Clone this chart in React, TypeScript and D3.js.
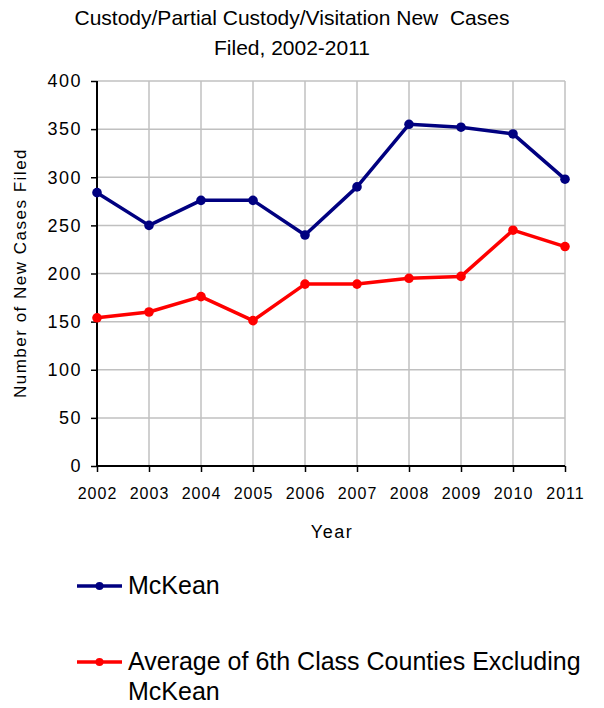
import * as d3 from 'd3'
import * as React from 'react'

//------------------------------data------------------------------
const years = ['2002', '2003', '2004', '2005', '2006', '2007', '2008', '2009', '2010', '2011']
const mckean = [284, 250, 276, 276, 240, 290, 355, 352, 345, 298]
const sixthClassAvg = [154, 160, 176, 151, 189, 189, 195, 197, 245, 228]
const yTicks = [0, 50, 100, 150, 200, 250, 300, 350, 400]

const WIDTH = 604
const HEIGHT = 708
const FONT = '"Liberation Sans", Arial, sans-serif'
const M = { left: 97, right: 565, top: 81, bottom: 466 }

//------------------------------Component------------------------------
export default function App() {
  const svgRef = React.useRef<SVGSVGElement>(null)

  React.useEffect(() => {
    const svg = d3.select(svgRef.current)
    svg.selectAll('*').remove()

    const x = d3.scalePoint<string>().domain(years).range([M.left, M.right])
    const y = d3.scaleLinear().domain([0, 400]).range([M.bottom, M.top])

    // grid
    const grid = svg.append('g').attr('stroke', '#c0c0c0').attr('stroke-width', 1.5)
    grid
      .selectAll('line.h')
      .data(yTicks.slice(1))
      .join('line')
      .attr('x1', M.left)
      .attr('x2', M.right)
      .attr('y1', d => y(d))
      .attr('y2', d => y(d))
    grid
      .selectAll('line.v')
      .data(years.slice(1))
      .join('line')
      .attr('x1', d => x(d)!)
      .attr('x2', d => x(d)!)
      .attr('y1', M.top)
      .attr('y2', M.bottom)

    // axes
    const yAxis = svg
      .append('g')
      .attr('transform', `translate(${M.left},0)`)
      .call(d3.axisLeft(y).tickValues(yTicks).tickSize(6).tickPadding(9))
    const xAxis = svg
      .append('g')
      .attr('transform', `translate(0,${M.bottom})`)
      .call(d3.axisBottom(x).tickSize(6).tickPadding(16))
    ;[yAxis, xAxis].forEach(g => {
      g.select('.domain').attr('stroke', '#000').attr('stroke-width', 2)
      g.selectAll('.tick line').attr('stroke', '#000').attr('stroke-width', 1.5)
      g.selectAll('.tick text').attr('fill', '#000').style('font-family', FONT)
    })
    yAxis.selectAll('.tick text').style('font-size', '18px').style('letter-spacing', '1.5px')
    xAxis.selectAll('.tick text').style('font-size', '16px').style('letter-spacing', '1px')
    yAxis.select('.domain').attr('d', `M0,${M.bottom}V${M.top}`)
    xAxis.select('.domain').attr('d', `M${M.left},0H${M.right}`)

    // lines
    const series = [
      { name: 'McKean', values: mckean, color: '#000080' },
      { name: 'Average of 6th Class Counties Excluding McKean', values: sixthClassAvg, color: '#ff0000' }
    ]
    const line = d3
      .line<number>()
      .x((_, i) => x(years[i])!)
      .y(d => y(d))
    series.forEach(s => {
      svg
        .append('path')
        .datum(s.values)
        .attr('d', line)
        .attr('fill', 'none')
        .attr('stroke', s.color)
        .attr('stroke-width', 3.5)
        .attr('stroke-linejoin', 'round')
      svg
        .append('g')
        .selectAll('circle')
        .data(s.values)
        .join('circle')
        .attr('cx', (_, i) => x(years[i])!)
        .attr('cy', d => y(d))
        .attr('r', 4.8)
        .attr('fill', s.color)
    })

    // titles
    const title = svg
      .append('text')
      .attr('text-anchor', 'middle')
      .style('font-family', FONT)
      .style('font-size', '21px')
      .style('white-space', 'pre')
      .attr('fill', '#000')
    title.append('tspan').attr('x', 292).attr('y', 25).text('Custody/Partial Custody/Visitation New  Cases')
    title.append('tspan').attr('x', 292).attr('y', 55).text('Filed, 2002-2011')

    svg
      .append('text')
      .attr('transform', `translate(26,273) rotate(-90)`)
      .attr('text-anchor', 'middle')
      .style('font-family', FONT)
      .style('font-size', '17px')
      .style('letter-spacing', '1.5px')
      .text('Number of New Cases Filed')

    svg
      .append('text')
      .attr('x', 332)
      .attr('y', 538)
      .attr('text-anchor', 'middle')
      .style('font-family', FONT)
      .style('font-size', '18px')
      .style('letter-spacing', '1.5px')
      .text('Year')

    // legend
    const legendRows = [
      { s: series[0], y: 586, lines: ['McKean'] },
      { s: series[1], y: 662, lines: ['Average of 6th Class Counties Excluding', 'McKean'] }
    ]
    legendRows.forEach(r => {
      const g = svg.append('g')
      g.append('line')
        .attr('x1', 77)
        .attr('x2', 122)
        .attr('y1', r.y)
        .attr('y2', r.y)
        .attr('stroke', r.s.color)
        .attr('stroke-width', 3.5)
      g.append('circle').attr('cx', 99.5).attr('cy', r.y).attr('r', 4).attr('fill', r.s.color)
      const t = g
        .append('text')
        .style('font-family', FONT)
        .style('font-size', '25px')
        .attr('fill', '#000')
      r.lines.forEach((ln, i) => {
        t.append('tspan')
          .attr('x', 128)
          .attr('y', r.y + 8 + i * 30)
          .text(ln)
      })
    })
  }, [])

  return <svg ref={svgRef} width={WIDTH} height={HEIGHT} style={{ display: 'block', margin: '-8px' }} />
}
